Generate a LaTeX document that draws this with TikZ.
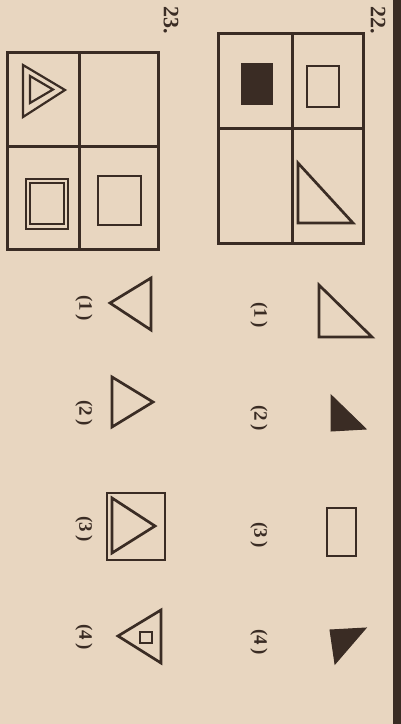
\documentclass[tikz,border=0pt]{standalone}
\usepackage{fontspec}
\newfontfamily\lblfont{Liberation Serif}
\begin{document}
\begin{tikzpicture}[x=1pt,y=-1pt,
  ink/.style={draw=inkc,line width=2.7pt,line join=miter},
  grid/.style={draw=inkc,line width=3pt},
  fillink/.style={fill=inkc,draw=inkc,line width=1pt},
  lbl/.style={text=inkc,font=\lblfont\fontsize{19}{19}\selectfont\bfseries,rotate=-90,inner sep=0pt},
  num/.style={text=inkc,font=\lblfont\fontsize{22}{22}\selectfont\bfseries,rotate=-90,inner sep=0pt}]
\definecolor{inkc}{RGB}{58,44,36}
\definecolor{paper}{RGB}{232,214,192}
\useasboundingbox (0,0) rectangle (401,724);
\fill[paper] (0,0) rectangle (401,724);
\fill[inkc] (393,0) rectangle (401,724);
% ---- 22 ----
\node[num] (n22) at (378,20) {22.};
\draw[grid] (218,33) rectangle (363,243);
\draw[grid] (292,33) -- (292,243);
\draw[grid] (218,128) -- (363,128);
\fill[inkc] (241,63) rectangle (273,105);
\draw[ink] (307,66) rectangle (339,107);
\draw[ink] (298,163) -- (298,223) -- (353,223) -- cycle;
% options 22
\draw[ink] (319,285) -- (319,337) -- (372,337) -- cycle;
\node[lbl] (a1) at (259,315) {(1\,)};
\filldraw[fillink] (331,395) -- (331,431) -- (366,429) -- cycle;
\node[lbl] (a2) at (259,418) {(2\,)};
\draw[ink] (327,508) rectangle (356,556);
\node[lbl] (a3) at (259,535) {(3\,)};
\filldraw[fillink] (330,630) -- (366,628) -- (335,664) -- cycle;
\node[lbl] (a4) at (259,642) {(4\,)};
% ---- 23 ----
\node[num] (n23) at (171,20) {23.};
\draw[grid] (7,52) rectangle (158,249);
\draw[grid] (79,52) -- (79,249);
\draw[grid] (7,146) -- (158,146);
\draw[ink,line width=2.2pt] (23,65) -- (23,117) -- (65,90) -- cycle;
\draw[ink,line width=2.2pt] (30,76) -- (30,103) -- (53,89.5) -- cycle;
\draw[ink,line width=2.2pt] (26,179) rectangle (68,229);
\draw[ink,line width=2.2pt] (30,183) rectangle (64,224);
\draw[ink] (98,176) rectangle (141,225);
% options 23
\draw[ink] (110,303) -- (151,278) -- (151,330) -- cycle;
\node[lbl] (b1) at (84,308) {(1\,)};
\draw[ink] (112,377) -- (112,427) -- (153,402) -- cycle;
\node[lbl] (b2) at (84,413) {(2\,)};
\draw[ink] (107,493) rectangle (165,560);
\draw[ink] (112,498) -- (112,553) -- (155,526) -- cycle;
\node[lbl] (b3) at (84,529) {(3\,)};
\draw[ink] (118,636) -- (161,610) -- (161,663) -- cycle;
\draw[ink,line width=2.2pt] (140,632) rectangle (152,643);
\node[lbl] (b4) at (84,637) {(4\,)};
\end{tikzpicture}
\end{document}
